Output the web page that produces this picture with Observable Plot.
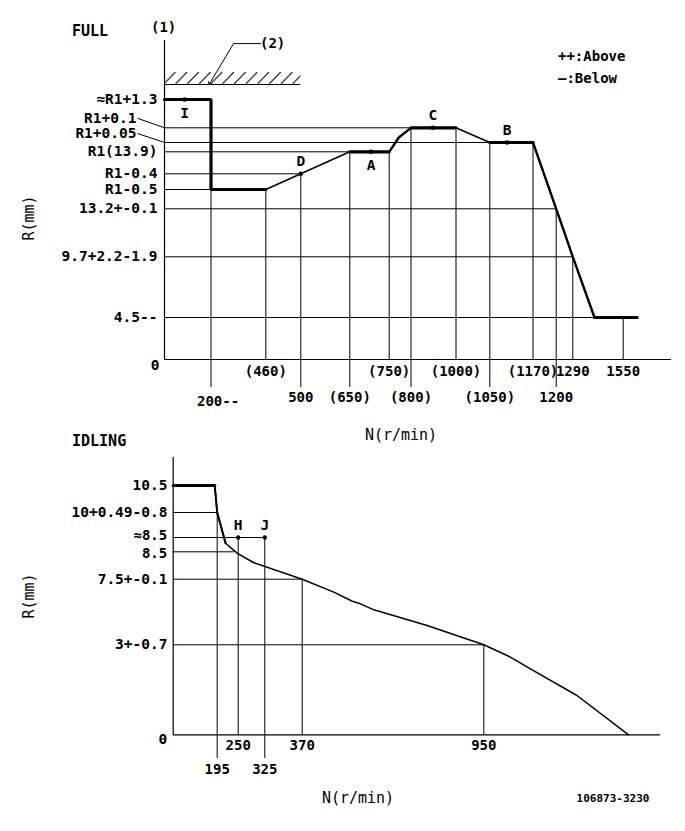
<!DOCTYPE html>
<html><head><meta charset="utf-8">
<script src="https://cdn.jsdelivr.net/npm/d3@7"></script>
<script src="https://cdn.jsdelivr.net/npm/@observablehq/plot@0.6"></script>
<style>
body{margin:0;background:#fff;}
#wrap{position:relative;width:685px;height:831px;font-family:"DejaVu Sans Mono",monospace;color:#000;overflow:hidden;}
.t{position:absolute;white-space:nowrap;line-height:1;transform:translateY(-50%);}
.b{font-weight:bold;}
.rot{transform:translate(-50%,-50%) rotate(-90deg);}
.ctr{transform:translate(-50%,-50%);}
#full{position:absolute;left:0;top:0;}
#idle{position:absolute;left:0;top:420px;}
</style></head><body>
<svg width="0" height="0" style="position:absolute">
  <defs>
    <pattern id="hatch" patternUnits="userSpaceOnUse" width="11.7" height="12">
      <line x1="0" y1="12" x2="11.7" y2="0" stroke="#000" stroke-width="1.1"/>
    </pattern>
  </defs>
</svg>
<div id="wrap">
  <div id="full"></div>
  <div id="idle"></div>
  <div class="t b" style="left:72px;top:31px;font-size:15px">FULL</div>
  <div class="t b" style="left:151px;top:27px;font-size:14px">(1)</div>
  <div class="t b" style="left:260px;top:43px;font-size:14px">(2)</div>
  <div class="t b" style="left:558px;top:56px;font-size:14px">++:Above</div>
  <div class="t b" style="left:558px;top:78px;font-size:14px">—:Below</div>
  <div class="t rot" style="left:29px;top:218px;font-size:15px">R(mm)</div>
  <div class="t ctr" style="left:401px;top:435px;font-size:15px">N(r/min)</div>
  <div class="t b" style="left:72px;top:441px;font-size:15px">IDLING</div>
  <div class="t rot" style="left:29px;top:596px;font-size:15px">R(mm)</div>
  <div class="t ctr" style="left:358px;top:798px;font-size:15px">N(r/min)</div>
  <div class="t ctr b" style="left:613px;top:798px;font-size:11px">106873-3230</div>
</div>
<script>
// ---------------- FULL ----------------
const fullN = [0, 200, 200, 460, 500, 650, 750, 772, 800, 1000, 1050, 1170, 1200, 1290, 1402, 1622];
const fullR = [15.2, 15.2, 13.4, 13.4, 13.5, 13.9, 13.9, 13.967, 14.0, 14.0, 13.95, 13.95, 13.2, 9.7, 4.5, 4.5];
const fullYTicks = [15.2, 13.9, 13.5, 13.4, 13.2, 9.7, 4.5];
const fullYLabels = ["≈R1+1.3", "R1(13.9)", "R1-0.4", "R1-0.5", "13.2+-0.1", "9.7+2.2-1.9", "4.5--"];
const fullYLeaderTicks = [14.0, 13.95];
const fullYLeaderLabels = ["R1+0.1", "R1+0.05"];
const fullXRow1 = [460, 750, 1000, 1170, 1290, 1550];
const fullXRow1Labels = ["(460)", "(750)", "(1000)", "(1170)", "1290", "1550"];
const fullXRow2 = [200, 500, 650, 800, 1050, 1200];
const fullXRow2Labels = ["200--", "500", "(650)", "(800)", "(1050)", "1200"];
const fullPtLabels = ["I", "D", "A", "C", "B"];
const fullPtN = [86, 500, 704, 897, 1098];
const fullPtR = [15.2, 13.5, 13.9, 14.0, 13.95];
// guide lines: vertical from axis up to curve, horizontal from axis to curve
const fullVN = [200, 460, 500, 650, 750, 800, 1000, 1050, 1170, 1200, 1290, 1550];
const fullVR = [13.4, 13.4, 13.5, 13.9, 13.9, 14.0, 14.0, 13.95, 13.95, 13.2, 9.7, 4.5];
const fullHR = [14.0, 13.95, 13.9, 13.5, 13.4, 13.2, 9.7, 4.5];
const fullHN = [800, 1050, 650, 500, 200, 1200, 1290, 1402];
const stopR = 16;           // full-load stopper level (2)
const stopN = [0, 500];
const stopLeaderN = [435, 307, 194];
const stopLeaderR = [16.93, 16.93, 16.02];

// piecewise (schematic) scales
const fullXDomain = [0, 200, 460, 500, 650, 750, 800, 1000, 1050, 1170, 1200, 1290, 1550, 1800];
const fullXRange  = [164, 210.5, 265.3, 300.3, 349.3, 388.7, 410.5, 455.5, 489.3, 532.5, 555.7, 572.3, 622.7, 671];
const fullYDomain = [0, 4.5, 9.7, 13.2, 13.4, 13.5, 13.9, 13.95, 14.0, 15.2, 16, 17];
const fullYRange  = [359, 317, 256.3, 208.3, 189, 173.3, 151.3, 142, 127.3, 99, 84, 40];

const fxs = d3.scaleLinear(fullXDomain, fullXRange);
const fys = d3.scaleLinear(fullYDomain, fullYRange);

const fullPts = fullN.map((n, i) => ({n, r: fullR[i]}));
const runs = (list) => list.flatMap(([a, b], k) => fullPts.slice(a, b + 1).map(p => ({...p, k})));
const thickRuns = runs([[0, 3], [5, 6], [8, 9], [10, 11], [14, 15]]);
const medRuns = runs([[6, 8], [11, 14]]);
const pts = fullPtLabels.map((label, i) => ({label, n: fullPtN[i], r: fullPtR[i]}));
const below = new Set(["I", "A"]);
const vlines = fullVN.map((n, i) => ({n, r: fullVR[i]}));
const hlines = fullHR.map((r, i) => ({r, n: fullHN[i]}));
const leaders = fullYLeaderTicks.map((r, i) => ({
  r, label: fullYLeaderLabels[i],
  n0: fxs.invert(fxs(0) - 27), r0: fys.invert(fys(r) - [9.5, 9][i])
}));
const lab = (ticks, labels) => { const m = new Map(ticks.map((t, i) => [t, labels[i]])); return d => m.get(d); };
const font = {fontFamily: "'DejaVu Sans Mono', monospace", fontSize: "14.5px", fontWeight: "bold", background: "transparent", overflow: "visible"};

const full = Plot.plot({
  width: 685, height: 420,
  marginLeft: 164, marginRight: 14, marginTop: 40, marginBottom: 61,
  style: font,
  x: {type: "linear", domain: fullXDomain, range: fullXRange, label: null},
  y: {type: "linear", domain: fullYDomain, range: fullYRange, label: null},
  marks: [
    Plot.rect([{}], {x1: () => stopN[0], x2: () => stopN[1], y1: () => stopR, y2: () => stopR + 0.273, fill: "url(#hatch)"}),
    Plot.ruleY([stopR], {x1: stopN[0], x2: stopN[1], stroke: "black", strokeWidth: 1.2}),
    Plot.line(stopLeaderN.map((n, i) => ({n, r: stopLeaderR[i]})), {x: "n", y: "r", stroke: "black", strokeWidth: 1, markerEnd: "arrow"}),
    Plot.ruleX(vlines, {x: "n", y1: 0, y2: "r", stroke: "black", strokeWidth: 1}),
    Plot.ruleY(hlines, {y: "r", x1: 0, x2: "n", stroke: "black", strokeWidth: 1}),
    Plot.ruleX([0], {y1: 0, y2: 17, stroke: "black", strokeWidth: 1.2}),
    Plot.ruleY([0], {x1: 0, x2: 1800, stroke: "black", strokeWidth: 1.2}),
    Plot.line(fullPts, {x: "n", y: "r", stroke: "black", strokeWidth: 1.5}),
    Plot.line(medRuns, {x: "n", y: "r", z: "k", stroke: "black", strokeWidth: 2.3}),
    Plot.line(thickRuns, {x: "n", y: "r", z: "k", stroke: "black", strokeWidth: 3.2, strokeLinejoin: "miter"}),
    Plot.dot(pts, {x: "n", y: "r", r: 2.2, fill: "black"}),
    Plot.text(pts.filter(p => below.has(p.label)), {x: "n", y: "r", text: "label", dy: 14, fontSize: 14.5}),
    Plot.text(pts.filter(p => !below.has(p.label)), {x: "n", y: "r", text: "label", dy: -12, fontSize: 14.5}),
    Plot.axisY(fullYTicks, {anchor: "left", tickSize: 0, tickPadding: 7, tickFormat: lab(fullYTicks, fullYLabels), label: null}),
    Plot.text(leaders, {x: "n0", y: "r0", text: "label", textAnchor: "end", dx: -1}),
    Plot.link(leaders, {x1: "n0", y1: "r0", x2: () => 0, y2: "r", stroke: "black", strokeWidth: 1}),
    Plot.text([{n: 0, r: 0}], {x: "n", y: "r", text: () => "0", textAnchor: "end", dx: -5, dy: 6}),
    Plot.axisX(fullXRow1, {anchor: "bottom", tickSize: 0, tickPadding: 7, fontSize: 14, tickFormat: lab(fullXRow1, fullXRow1Labels), label: null}),
    Plot.axisX(fullXRow2, {anchor: "bottom", tickSize: 28, tickPadding: 5, fontSize: 14, tickFormat: d => d === 200 ? "" : lab(fullXRow2, fullXRow2Labels)(d), label: null}),
    Plot.text([{n: 200, r: 0}], {x: "n", y: "r", text: () => fullXRow2Labels[0], textAnchor: "start", fontSize: 14, dx: -14, dy: 42})
  ]
});
document.getElementById("full").appendChild(full);

// ---------------- IDLING ----------------
const idleN = [0, 184, 195, 217, 247, 294, 370, 471, 530, 556, 599, 769, 950, 1035, 1099, 1248, 1413];
const idleR = [10.5, 10.5, 10, 8.62, 8.45, 8.1, 7.5, 6.61, 5.99, 5.81, 5.40, 4.32, 3, 2.59, 2.2, 1.31, 0];
const idleYTicks = [10.5, 10, 7.5, 3];
const idleYLabels = ["10.5", "10+0.49-0.8", "7.5+-0.1", "3+-0.7"];
const idleYCloseTicks = [8.7, 8.5];
const idleYCloseLabels = ["≈8.5", "8.5"];
const idleXRow1 = [250, 370, 950];
const idleXRow1Labels = ["250", "370", "950"];
const idleXRow2 = [195, 325];
const idleXRow2Labels = ["195", "325"];
const idlePtLabels = ["H", "J"];
const idlePtN = [250, 325];
const idlePtR = [8.7, 8.7];
const idleVN = [195, 250, 325, 370, 950];
const idleVR = [10, 8.7, 8.7, 7.5, 3];
const idleHR = [10, 8.7, 8.5, 7.5, 3];
const idleHN = [195, 325, 240, 370, 950];

const idleXDomain = [0, 195, 250, 325, 370, 950, 1515];
const idleXRange  = [172.7, 216.7, 237.7, 264.3, 301.7, 483.3, 660];
const idleYDomain = [0, 3, 7.5, 8.5, 8.7, 10, 10.5, 11.5];
const idleYRange  = [314.3, 224.3, 158.7, 131.3, 117, 92, 65, 37];

const idlePts = idleN.map((n, i) => ({n, r: idleR[i]}));
const ipts = idlePtLabels.map((label, i) => ({label, n: idlePtN[i], r: idlePtR[i]}));
const close = idleYCloseTicks.map((r, i) => ({r, label: idleYCloseLabels[i]}));

const idle = Plot.plot({
  width: 685, height: 411,
  marginLeft: 173, marginRight: 25, marginTop: 37, marginBottom: 97,
  style: font,
  x: {type: "linear", domain: idleXDomain, range: idleXRange, label: null},
  y: {type: "linear", domain: idleYDomain, range: idleYRange, label: null},
  marks: [
    Plot.ruleX(idleVN.map((n, i) => ({n, r: idleVR[i]})), {x: "n", y1: 0, y2: "r", stroke: "black", strokeWidth: 1}),
    Plot.ruleY(idleHR.map((r, i) => ({r, n: idleHN[i]})), {y: "r", x1: 0, x2: "n", stroke: "black", strokeWidth: 1}),
    Plot.ruleX([0], {y1: 0, y2: 11.5, stroke: "black", strokeWidth: 1.2}),
    Plot.ruleY([0], {x1: 0, x2: 1515, stroke: "black", strokeWidth: 1.2}),
    Plot.line(idlePts, {x: "n", y: "r", stroke: "black", strokeWidth: 1.5}),
    Plot.line(idlePts.slice(1, 4), {x: "n", y: "r", stroke: "black", strokeWidth: 2}),
    Plot.line(idlePts.slice(0, 2), {x: "n", y: "r", stroke: "black", strokeWidth: 3.2}),
    Plot.dot(ipts, {x: "n", y: "r", r: 2.2, fill: "black"}),
    Plot.text(ipts, {x: "n", y: "r", text: "label", dy: -12, fontSize: 14.5}),
    Plot.axisY(idleYTicks, {anchor: "left", tickSize: 0, tickPadding: 6, tickFormat: lab(idleYTicks, idleYLabels), label: null}),
    Plot.text(close.slice(0, 1), {x: () => 0, y: "r", text: "label", textAnchor: "end", dx: -6, dy: -1.5, fontSize: 14}),
    Plot.text(close.slice(1), {x: () => 0, y: "r", text: "label", textAnchor: "end", dx: -6, dy: 1.5, fontSize: 14}),
    Plot.text([{n: 0, r: 0}], {x: "n", y: "r", text: () => "0", textAnchor: "end", dx: -6, dy: 5}),
    Plot.axisX(idleXRow1, {anchor: "bottom", tickSize: 0, tickPadding: 6, fontSize: 14, tickFormat: lab(idleXRow1, idleXRow1Labels), label: null}),
    Plot.axisX(idleXRow2, {anchor: "bottom", tickSize: 24, tickPadding: 6, fontSize: 14, tickFormat: lab(idleXRow2, idleXRow2Labels), label: null})
  ]
});
document.getElementById("idle").appendChild(idle);
</script>
</body></html>
